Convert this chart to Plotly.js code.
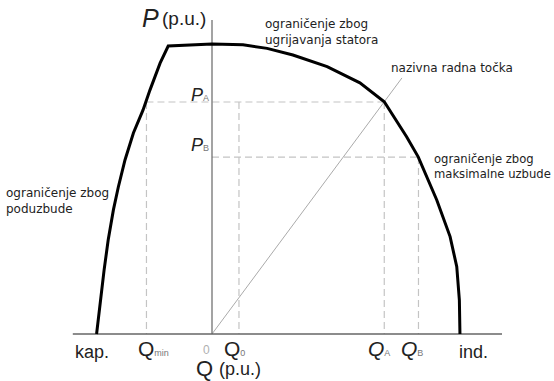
<!DOCTYPE html>
<html>
<head>
<meta charset="utf-8">
<script src="https://cdn.plot.ly/plotly-3.0.1.min.js"></script>
<style>
  html, body { margin: 0; padding: 0; background: #fff; }
  #chart { width: 554px; height: 381px; }
</style>
</head>
<body>
<div id="chart"></div>
<script>
// P-Q capability diagram of a synchronous generator (p.u.)
// boundary: under-excitation limit, stator heating arc, max excitation limit
var qCurve = [-0.398, -0.386, -0.372, -0.358, -0.340, -0.323, -0.300, -0.271, -0.238, -0.214, -0.179, -0.151,
              0.000, 0.107, 0.190, 0.279, 0.397, 0.510, 0.594,
              0.671, 0.711, 0.775, 0.821, 0.844, 0.853, 0.855];
var pCurve = [0.000, 0.107, 0.221, 0.324, 0.428, 0.507, 0.600, 0.693, 0.772, 0.841, 0.934, 0.993,
              1.000, 0.997, 0.985, 0.962, 0.922, 0.866, 0.801,
              0.680, 0.611, 0.462, 0.336, 0.232, 0.117, 0.000];

// operating-point levels
var PA = 0.80, PB = 0.61;
var Qmin = -0.226, Q0 = 0.093, QA = 0.594, QB = 0.712;

// axes extents and the rated-point ray
var qAxis = [-0.48, 1.0];
var pAxisTop = 1.083;
var rayEnd = [0.655, 0.883];

var INK = '#222';
var SUBC = '#777';
var TXT = 'DejaVu Sans, sans-serif';
var SYM = 'Liberation Sans, Arial, sans-serif';

var traces = [];

// dashed helper lines (one trace, gaps with null)
traces.push({
  type: 'scatter', mode: 'lines', hoverinfo: 'skip',
  x: [Qmin, QA, null, Qmin, Qmin, null, Q0, Q0, null, QA, QA, null, 0, QB, null, QB, QB],
  y: [PA, PA, null, PA, 0, null, PA, 0, null, PA, 0, null, PB, PB, null, PB, 0],
  line: { color: '#c4c4c4', width: 1.2, dash: '7px,4px' }
});

// rated point ray from origin
traces.push({
  type: 'scatter', mode: 'lines', hoverinfo: 'skip',
  x: [0, rayEnd[0]], y: [0, rayEnd[1]],
  line: { color: '#aaaaaa', width: 1 }
});

// axes
traces.push({
  type: 'scatter', mode: 'lines', hoverinfo: 'skip',
  x: [qAxis[0], qAxis[1]], y: [0, 0],
  line: { color: '#666', width: 1.5 }
});
traces.push({
  type: 'scatter', mode: 'lines', hoverinfo: 'skip',
  x: [0, 0], y: [0, pAxisTop],
  line: { color: '#666', width: 1.2 }
});

// capability boundary
traces.push({
  type: 'scatter', mode: 'lines', hoverinfo: 'skip',
  x: qCurve, y: pCurve,
  line: { color: '#000', width: 3, shape: 'linear' }
});

function note(text, x, y, size, font, anchor, color) {
  return {
    text: text, x: x, y: y, xref: 'x', yref: 'y', showarrow: false,
    xanchor: anchor || 'left', yanchor: 'middle', align: 'left',
    font: { family: font || TXT, size: size || 12, color: color || INK }
  };
}

// big symbol with a small baseline-aligned index, like the drawing
function sym(letter, idx, italic) {
  var s = italic ? '<i>' + letter + '</i>' : letter;
  return idx ? s + '<span style="font-size:9px;color:' + SUBC + '">' + idx + '</span>' : s;
}

var annotations = [
  note('<i>P</i>', -0.250, 1.088, 25, SYM),
  note('(p.u.)', -0.178, 1.088, 19, SYM),
  note('ograničenje zbog<br>ugrijavanja statora', 0.176, 1.040, 12),
  note('nazivna radna točka', 0.612, 0.917, 12),
  note('ograničenje zbog<br>maksimalne uzbude', 0.760, 0.576, 11.6),
  note('ograničenje zbog<br>poduzbude', -0.717, 0.459, 12),
  note(sym('P', 'A', true), -0.004, 0.824, 18, SYM, 'right'),
  note(sym('P', 'B', true), -0.004, 0.652, 18, SYM, 'right'),
  note('kap.', -0.481, -0.062, 18, SYM),
  note(sym('Q', 'min', false), -0.262, -0.050, 21, SYM),
  note('0', -0.018, -0.054, 12, SYM, 'center', '#b0b0b0'),
  note(sym('Q', '0', false), 0.033, -0.050, 21, SYM),
  note(sym('Q', 'A', true), 0.532, -0.050, 21, SYM),
  note(sym('Q', 'B', true), 0.646, -0.050, 21, SYM),
  note('ind.', 0.845, -0.062, 18, SYM),
  note('Q', -0.062, -0.120, 22, SYM),
  note('(p.u.)', 0.016, -0.120, 18, SYM)
];

var layout = {
  width: 554, height: 381,
  margin: { l: 0, r: 0, t: 0, b: 0 },
  paper_bgcolor: '#fff', plot_bgcolor: '#fff',
  showlegend: false,
  xaxis: { range: [-212 / 290, 342 / 290], visible: false, fixedrange: true },
  yaxis: { range: [-47 / 290, 334 / 290], visible: false, fixedrange: true },
  annotations: annotations
};

Plotly.newPlot('chart', traces, layout, { displayModeBar: false, staticPlot: true });
</script>
</body>
</html>
